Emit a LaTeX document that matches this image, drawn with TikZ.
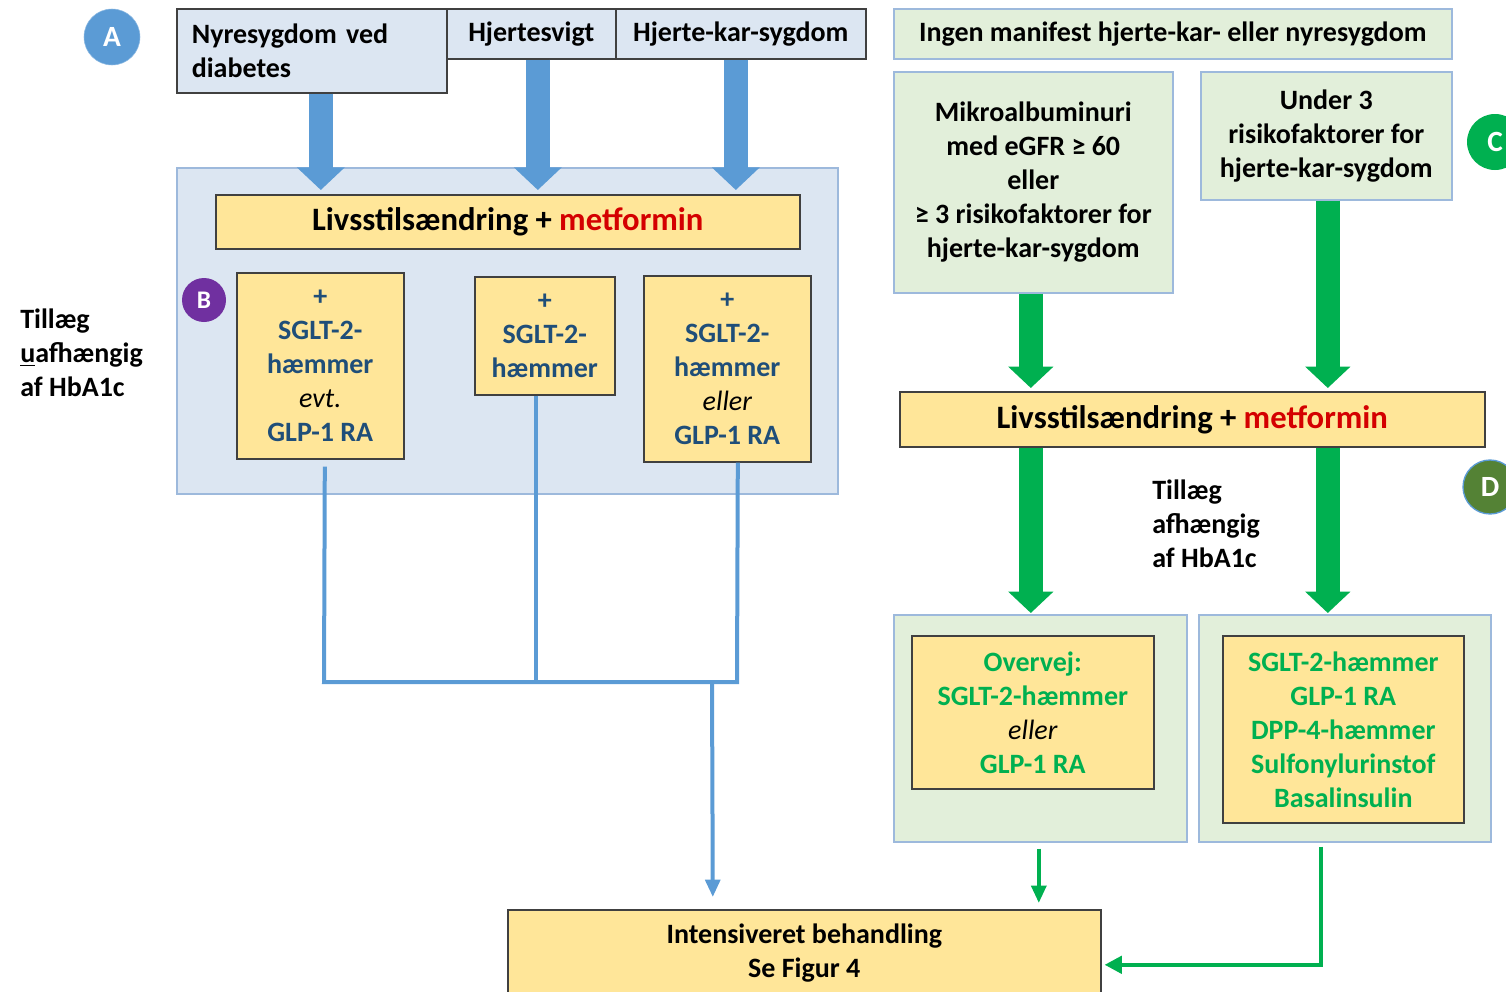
\documentclass[tikz,border=0pt]{standalone}
\usepackage{fontspec}
\setmainfont{Carlito}
\usepackage{xcolor}
\usetikzlibrary{arrows.meta,calc,positioning}

\definecolor{paleblue}{HTML}{DCE6F2}
\definecolor{palegreen}{HTML}{E2EFDA}
\definecolor{boxyellow}{HTML}{FFE699}
\definecolor{arrowblue}{HTML}{5B9BD5}
\definecolor{arrowgreen}{HTML}{00B050}
\definecolor{edgegray}{HTML}{404040}
\definecolor{edgeblue}{HTML}{9DB9DC}
\definecolor{textblue}{HTML}{1F4E79}
\definecolor{metred}{HTML}{D40000}
\definecolor{circpurple}{HTML}{7030A0}
\definecolor{circdgreen}{HTML}{548235}

\begin{document}
\begin{tikzpicture}[x=0.75pt,y=0.75pt,yscale=-1,xscale=1,
  every node/.style={font=\bfseries\fontsize{21}{25.5}\selectfont, inner sep=0pt},
  sz/.style 2 args={minimum width=#1*0.75pt, minimum height=#2*0.75pt},
  bluebox/.style={draw=edgegray, fill=paleblue, line width=1.2pt},
  frameblue/.style={draw=edgeblue, fill=paleblue, line width=1.2pt},
  framegreen/.style={draw=edgeblue, fill=palegreen, line width=1.2pt},
  yellowbox/.style={draw=edgegray, fill=boxyellow, line width=1.2pt},
  bigtext/.style={font=\bfseries\fontsize{24.5}{29}\selectfont},
  circ/.style={circle, text=white, font=\bfseries\fontsize{22}{26}\selectfont},
  fatblue/.style={arrowblue, line width=18pt, -{Triangle[width=35pt,length=17pt]}},
  fatgreen/.style={arrowgreen, line width=18pt, -{Triangle[width=33pt,length=16pt]}},
  thinblue/.style={arrowblue, line width=3pt},
  thingreen/.style={arrowgreen, line width=3pt}
]
\useasboundingbox (0,0) rectangle (1506,992);

%left: top boxes
\node[circ, fill=arrowblue, draw=arrowblue!70!white, sz={56}{56}] (cA) at (112,37) {A};
\node[bluebox, sz={270}{84}, anchor=north west, align=left, text width=240*0.75pt] (nyre) at (176,8) {Nyresygdom ved\\diabetes};
\node[bluebox, sz={169}{50}, anchor=north west] (hsvigt) at (446,8) {Hjertesvigt};
\node[bluebox, sz={250}{50}, anchor=north west] (hkar) at (615,8) {Hjerte-kar-sygdom};

%left: frame with treatment boxes
\node[frameblue, sz={661}{326}, anchor=north west] (frameL) at (176,167) {};
\node[yellowbox, bigtext, sz={584}{54}, anchor=north west] (livL) at (215,194) {Livsstilsændring + \textcolor{metred}{metformin}};
\node[yellowbox, sz={167}{186}, anchor=north west, align=center, text=textblue] (b1) at (236,272) {+\\SGLT-2-\\hæmmer\\\textcolor{black}{\mdseries\itshape evt.}\\GLP-1 RA};
\node[yellowbox, sz={140}{118}, anchor=north west, align=center, text=textblue] (b2) at (474,276) {+\\SGLT-2-\\hæmmer};
\node[yellowbox, sz={167}{186}, anchor=north west, align=center, text=textblue] (b3) at (643,275) {+\\SGLT-2-\\hæmmer\\\textcolor{black}{\mdseries\itshape eller}\\GLP-1 RA};
\node[circ, fill=circpurple, sz={44}{44}, font=\bfseries\fontsize{19}{22}\selectfont] (cB) at (204,300) {B};
\node[anchor=west, align=left] (tilL) at (20,353) {Tillæg\\\underline{u}afhængig\\af HbA1c};

%right: top boxes
\node[framegreen, sz={558}{50}, anchor=north west] (ingen) at (893,8) {Ingen manifest hjerte-kar- eller nyresygdom};
\node[framegreen, sz={279}{221}, anchor=north west, align=center] (mikro) at (893,71) {Mikroalbuminuri\\med eGFR ≥ 60\\eller\\≥ 3 risikofaktorer for\\hjerte-kar-sygdom};
\node[framegreen, sz={251}{128}, anchor=north west, align=center] (under) at (1200,71) {Under 3\\risikofaktorer for\\hjerte-kar-sygdom};
\node[circ, fill=arrowgreen, sz={56}{56}] (cC) at (1495,142) {C};

\node[yellowbox, bigtext, sz={585}{55}, anchor=north west] (livR) at (899,391) {Livsstilsændring + \textcolor{metred}{metformin}};
\node[circ, fill=circdgreen, draw=arrowblue, line width=1pt, sz={54}{54}] (cD) at (1490,487) {D};
\node[anchor=west, align=left] (tilR) at (1152,524) {Tillæg\\afhængig\\af HbA1c};

%right: treatment frames
\node[framegreen, sz={293}{227}, anchor=north west] (gL) at (893,614) {};
\node[framegreen, sz={292}{227}, anchor=north west] (gR) at (1198,614) {};
\node[yellowbox, sz={242}{153}, anchor=north west, align=center, text=arrowgreen] (yL) at (911,635) {Overvej:\\SGLT-2-hæmmer\\\textcolor{black}{\mdseries\itshape eller}\\GLP-1 RA};
\node[yellowbox, sz={241}{187}, anchor=north west, align=center, text=arrowgreen] (yR) at (1222,635) {SGLT-2-hæmmer\\GLP-1 RA\\DPP-4-hæmmer\\Sulfonylurinstof\\Basalinsulin};

%bottom box
\node[yellowbox, sz={593}{86}, anchor=north west, align=center] (intens) at (507,909) {Intensiveret behandling\\Se Figur 4};

%left: arrows
\draw[fatblue] ($(nyre.south)+(9,0)$) -- ($(livL.north)+(-187,-4)$);
\draw[fatblue] ($(hsvigt.south)+(6.5,0)$) -- ($(livL.north)+(30,-4)$);
\draw[fatblue] ($(hkar.south)+(-5,0)$) -- ($(livL.north)+(228,-4)$);

\coordinate (jL) at (324,682);
\coordinate (jR) at (737,682);
\coordinate (jD) at (712,682);
\draw[thinblue] ($(b1.south)+(4.5,7)$) -- (jL) -- (jR) -- ($(b3.south)+(10.5,0)$);
\draw[thinblue] ($(b2.south)+(-9,0)$) -- ($(b2.south)+(-9,288)$);
\draw[thinblue, -{Triangle[width=11pt,length=13pt]}] (jD) -- ($(intens.north)+(-91.5,-12)$);

%right: arrows
\draw[fatgreen] ($(mikro.south)+(-2.5,0)$) -- ($(livR.north)+(-161.5,-3)$);
\draw[fatgreen] ($(under.south)+(1.5,0)$) -- ($(livR.north)+(135.5,-3)$);
\draw[fatgreen] ($(livR.south)+(-161.5,0)$) -- ($(gL.north)+(-9.5,-1)$);
\draw[fatgreen] ($(livR.south)+(135.5,0)$) -- ($(gR.north)+(-17,-1)$);
\draw[thingreen, -{Triangle[width=11pt,length=13pt]}] ($(gL.south)+(-1.5,6)$) -- ($(intens.north)+(234.5,-6)$);
\draw[thingreen, -{Triangle[width=13pt,length=13pt]}] ($(gR.south)+(-24,4)$) |- ($(intens.east)+(3,12)$);

\end{tikzpicture}
\end{document}
